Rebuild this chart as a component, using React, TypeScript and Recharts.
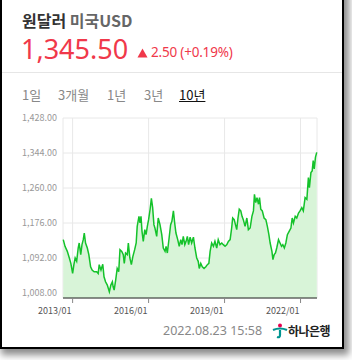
import React from "react";
import {
  AreaChart,
  Area,
  XAxis,
  YAxis,
  CartesianGrid,
} from "recharts";

// time as decimal year, rate in KRW per USD
const years = [
  2012.63, 2012.7, 2012.79, 2012.87, 2012.93, 2013.0, 2013.05, 2013.1, 2013.16, 2013.22,
  2013.26, 2013.32, 2013.37, 2013.42, 2013.46, 2013.51, 2013.58, 2013.64, 2013.71, 2013.77,
  2013.85, 2013.95, 2014.01, 2014.05, 2014.12, 2014.19, 2014.24, 2014.3, 2014.37, 2014.45,
  2014.51, 2014.57, 2014.6, 2014.64, 2014.7, 2014.76, 2014.82, 2014.87, 2014.94, 2015.0,
  2015.04, 2015.09, 2015.16, 2015.2, 2015.26, 2015.32, 2015.38, 2015.45, 2015.51, 2015.55,
  2015.62, 2015.66, 2015.7, 2015.74, 2015.79, 2015.85, 2015.9, 2015.95, 2016.0, 2016.06,
  2016.11, 2016.16, 2016.21, 2016.25, 2016.32, 2016.38, 2016.45, 2016.52, 2016.58, 2016.65,
  2016.69, 2016.74, 2016.81, 2016.87, 2016.92, 2016.98, 2017.03, 2017.08, 2017.15, 2017.21,
  2017.27, 2017.32, 2017.37, 2017.43, 2017.48, 2017.53, 2017.58, 2017.64, 2017.7, 2017.77,
  2017.83, 2017.9, 2017.96, 2018.0, 2018.06, 2018.12, 2018.19, 2018.26, 2018.32, 2018.38,
  2018.43, 2018.49, 2018.56, 2018.62, 2018.69, 2018.75, 2018.82, 2018.89, 2018.95, 2019.02,
  2019.09, 2019.15, 2019.22, 2019.28, 2019.32, 2019.38, 2019.43, 2019.48, 2019.53, 2019.58,
  2019.64, 2019.69, 2019.74, 2019.81, 2019.88, 2019.94, 2020.01, 2020.08, 2020.14, 2020.18,
  2020.23, 2020.28, 2020.34, 2020.38, 2020.43, 2020.49, 2020.56, 2020.63, 2020.69, 2020.75,
  2020.8, 2020.87, 2020.91, 2020.96, 2021.01, 2021.06, 2021.13, 2021.19, 2021.25, 2021.3,
  2021.36, 2021.42, 2021.48, 2021.55, 2021.62, 2021.67, 2021.72, 2021.79, 2021.85, 2021.92,
  2021.98, 2022.05, 2022.11, 2022.18, 2022.25, 2022.31, 2022.35, 2022.41, 2022.46, 2022.5,
  2022.54, 2022.59, 2022.64,
];

const rates = [
  1136, 1120, 1108, 1092, 1079, 1055, 1076, 1092, 1084, 1116,
  1128, 1100, 1124, 1136, 1152, 1128, 1116, 1100, 1071, 1063,
  1059, 1059, 1055, 1076, 1063, 1077, 1047, 1035, 1027, 1011,
  1027, 1035, 1023, 1015, 1039, 1067, 1059, 1112, 1108, 1100,
  1079, 1104, 1100, 1128, 1092, 1076, 1096, 1112, 1128, 1168,
  1192, 1176, 1192, 1156, 1132, 1160, 1148, 1168, 1184, 1209,
  1235, 1213, 1172, 1164, 1144, 1188, 1172, 1148, 1116, 1108,
  1120, 1104, 1140, 1172, 1180, 1205, 1176, 1152, 1136, 1120,
  1136, 1124, 1144, 1124, 1132, 1144, 1124, 1142, 1128, 1142,
  1116, 1092, 1084, 1067, 1079, 1071, 1067, 1071, 1076, 1079,
  1108, 1128, 1120, 1132, 1116, 1136, 1124, 1128, 1124, 1120,
  1124, 1132, 1136, 1164, 1188, 1184, 1172, 1160, 1188, 1209,
  1205, 1192, 1184, 1168, 1188, 1160, 1164, 1192, 1205, 1245,
  1225, 1237, 1221, 1237, 1209, 1205, 1188, 1184, 1168, 1148,
  1128, 1108, 1088, 1100, 1104, 1116, 1136, 1128, 1120, 1124,
  1116, 1128, 1148, 1156, 1164, 1188, 1176, 1192, 1188, 1200,
  1205, 1213, 1205, 1237, 1233, 1285, 1261, 1297, 1301, 1326,
  1306, 1334, 1345.5,
];

const xTicks = [2013, 2016, 2019, 2022];
const yTicks = [1008, 1092, 1176, 1260, 1344, 1428];
const tabs = ["1일", "3개월", "1년", "3년", "10년"];
const tabX = [22, 58, 107, 144, 179];

const data = years.map((t, i) => ({ t, v: rates[i] }));

const font = "'Noto Sans CJK KR', 'Noto Sans', sans-serif";
const latin = "'Noto Sans', sans-serif";

const XTick = (props: any) => {
  const { x, y, payload } = props;
  return (
    <text x={x - 1} y={y + 3} dy="0.71em" textAnchor="end" fontSize={9} fill="#555" fontFamily={font}>
      {payload.value}/01
    </text>
  );
};

export default function App() {
  return (
    <div style={{ position: "absolute", left: 0, top: 0, width: 352, height: 360, background: "#fff", overflow: "hidden", fontFamily: font }}>
      <div
        style={{
          position: "absolute",
          left: 0,
          top: -10,
          width: 340,
          height: 357,
          borderLeft: "2px solid #000",
          borderRight: "2px solid #000",
          borderBottom: "2px solid #000",
          background: "#fff",
          boxShadow: "3px 4px 7px 2px rgba(0,0,0,0.45)",
        }}
      />
      <div style={{ position: "absolute", left: 22, top: 12, fontSize: 16, lineHeight: 1, fontWeight: 700, color: "#333", whiteSpace: "nowrap" }}>
        원달러 <span style={{ color: "#666" }}>미국USD</span>
      </div>
      <div style={{ position: "absolute", left: 21, top: 35, fontSize: 27, lineHeight: 1, color: "#f0384a", whiteSpace: "nowrap", fontFamily: latin }}>
        1,345.50
      </div>
      <svg style={{ position: "absolute", left: 137, top: 48 }} width={11} height={10}>
        <path d="M5.5 0.5 L10.5 9.5 L0.5 9.5 Z" fill="#f0384a" />
      </svg>
      <div style={{ position: "absolute", left: 151, top: 46, fontSize: 13.5, lineHeight: 1, color: "#f0384a", whiteSpace: "nowrap", fontFamily: latin, letterSpacing: -0.2 }}>
        2.50 (+0.19%)
      </div>
      <div style={{ position: "absolute", left: 2, top: 72, width: 340, height: 1, background: "#e6e6e6" }} />
      {tabs.map((t, i) => (
        <div
          key={t}
          style={{
            position: "absolute",
            left: tabX[i],
            top: 88,
            fontSize: 13,
            lineHeight: 1,
            color: i === 4 ? "#111" : "#888",
            textDecoration: i === 4 ? "underline" : "none",
            whiteSpace: "nowrap",
          }}
        >
          {t}
        </div>
      ))}
      <div style={{ position: "absolute", left: 0, top: 100 }}>
        <AreaChart width={340} height={220} data={data} margin={{ top: 18, right: 23, left: 5, bottom: 2 }}>
          <CartesianGrid stroke="#e8e8e8" />
          <XAxis
            dataKey="t"
            type="number"
            domain={[2012.62, 2022.65]}
            ticks={xTicks}
            tick={<XTick />}
            stroke="#222"
            tickLine={{ stroke: "#888" }}
            tickSize={5}
            height={20}
          />
          <YAxis
            domain={[996, 1428]}
            ticks={yTicks}
            width={58}
            axisLine={false}
            tickLine={false}
            tickSize={4}
            tickMargin={2}
            tick={{ fontSize: 9, fill: "#999", fontFamily: font }}
            tickFormatter={(v: number) => v.toLocaleString("en-US", { minimumFractionDigits: 2 })}
          />
          <Area
            type="linear"
            dataKey="v"
            stroke="#14c22a"
            strokeWidth={1.5}
            fill="#d8f4d8"
            fillOpacity={1}
            isAnimationActive={false}
            dot={false}
            activeDot={false}
          />
        </AreaChart>
      </div>
      <div style={{ position: "absolute", left: 163, top: 325, fontSize: 12.5, lineHeight: 1, color: "#888", whiteSpace: "nowrap", fontFamily: latin }}>
        2022.08.23 15:58
      </div>
      <svg style={{ position: "absolute", left: 272, top: 323 }} width={16} height={16}>
        <circle cx={8} cy={2.5} r={2} fill="#e5004f" />
        <path d="M1 7 Q8 4 15 7" stroke="#009490" strokeWidth={2.2} fill="none" />
        <path d="M8 7 L8 12 Q8 15 5 14" stroke="#009490" strokeWidth={2.2} fill="none" />
      </svg>
      <div style={{ position: "absolute", left: 288, top: 325, fontSize: 12, lineHeight: 1, fontWeight: 700, color: "#222", whiteSpace: "nowrap", letterSpacing: -0.5 }}>
        하나은행
      </div>
    </div>
  );
}
